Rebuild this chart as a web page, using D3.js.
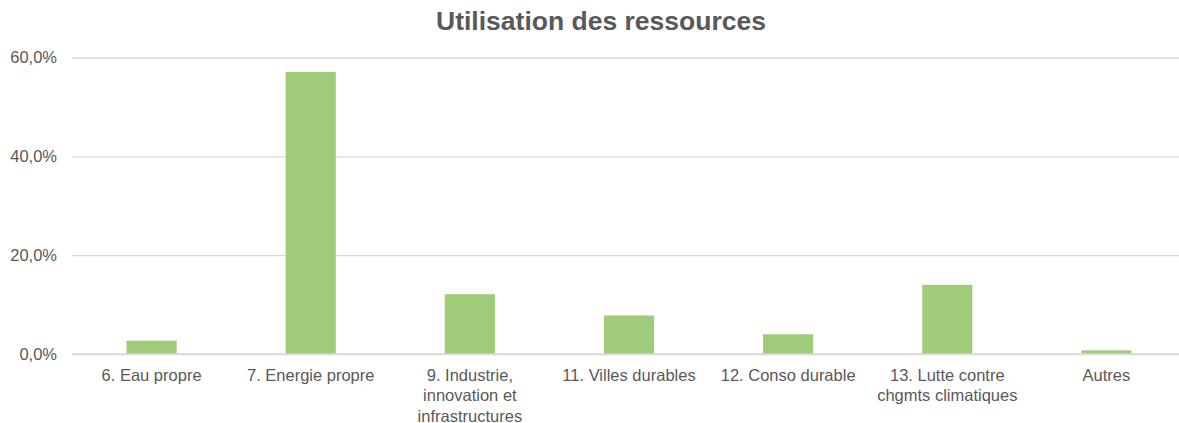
<!DOCTYPE html>
<html>
<head>
<meta charset="utf-8">
<script src="https://cdn.jsdelivr.net/npm/d3@7"></script>
<style>
  body { margin: 0; background: #fff; }
  svg { display: block; font-family: "Liberation Sans", Arial, sans-serif; }
</style>
</head>
<body>
<svg id="chart" width="1179" height="423"></svg>
<script>
const categories = ["6. Eau propre", "7. Energie propre", "9. Industrie, innovation et infrastructures",
  "11. Villes durables", "12. Conso durable", "13. Lutte contre chgmts climatiques", "Autres"]
const values = [0.027, 0.571, 0.121, 0.078, 0.040, 0.140, 0.0075]
const yTicks = [0, 0.2, 0.4, 0.6]

const svg = d3.select("#chart"),
    width = +svg.attr("width"),
    height = +svg.attr("height")

const margin = { left: 72, right: -7, top: 57.5, bottom: 69 }
const textColor = "#595959"

const x = d3.scaleBand()
    .domain(categories)
    .range([margin.left, width - margin.right])
    .paddingInner(0.685)
    .paddingOuter(0.3425)

const y = d3.scaleLinear()
    .domain([0, 0.6])
    .range([height - margin.bottom, margin.top])

const fmt = v => d3.format(".1f")(v * 100).replace(".", ",") + "%"

// title
svg.append("text")
    .attr("x", 601)
    .attr("y", 29.5)
    .attr("text-anchor", "middle")
    .attr("font-size", 26.5)
    .attr("font-weight", "bold")
    .attr("fill", textColor)
    .text("Utilisation des ressources")

// grid + y labels
const yAxis = d3.axisLeft(y).tickValues(yTicks).tickFormat(fmt)
    .tickSize(-(width - margin.left - margin.right)).tickPadding(15)

const gy = svg.append("g")
    .attr("transform", "translate(" + margin.left + ",0)")
    .call(yAxis)
gy.select(".domain").remove()
gy.selectAll(".tick line").attr("stroke", "#d9d9d9").attr("stroke-width", 1.3)
gy.selectAll(".tick text")
    .attr("fill", textColor)
    .attr("font-size", 16.5)

// bars
svg.append("g")
    .selectAll("rect")
    .data(values)
    .enter().append("rect")
    .attr("x", (d, i) => x(categories[i]))
    .attr("width", x.bandwidth())
    .attr("y", d => y(d))
    .attr("height", d => y(0) - y(d))
    .attr("fill", "#9fcb7b")

// baseline redrawn over bars
svg.append("line")
    .attr("x1", margin.left).attr("x2", width)
    .attr("y1", y(0)).attr("y2", y(0))
    .attr("stroke", "#d9d9d9").attr("stroke-width", 1.3)

// x labels
const xAxis = d3.axisBottom(x).tickSize(0).tickPadding(0)
const gx = svg.append("g")
    .attr("transform", "translate(0," + y(0) + ")")
    .call(xAxis)
gx.select(".domain").remove()
gx.selectAll(".tick text")
    .attr("fill", textColor)
    .attr("font-size", 16.5)
    .attr("y", 0)
    .attr("dy", 0)
    .call(wrap, 150)

function wrap(texts, maxW) {
  texts.each(function() {
    const t = d3.select(this)
    const words = t.text().split(/\s+/)
    t.text(null)
    let line = [], lineNo = 0
    let tspan = t.append("tspan").attr("x", 0).attr("y", 26.5)
    words.forEach(w => {
      line.push(w)
      tspan.text(line.join(" "))
      if (tspan.node().getComputedTextLength() > maxW && line.length > 1) {
        line.pop()
        tspan.text(line.join(" "))
        line = [w]
        lineNo++
        tspan = t.append("tspan").attr("x", 0).attr("y", 26.5 + lineNo * 20.5).text(w)
      }
    })
  })
}
</script>
</body>
</html>
